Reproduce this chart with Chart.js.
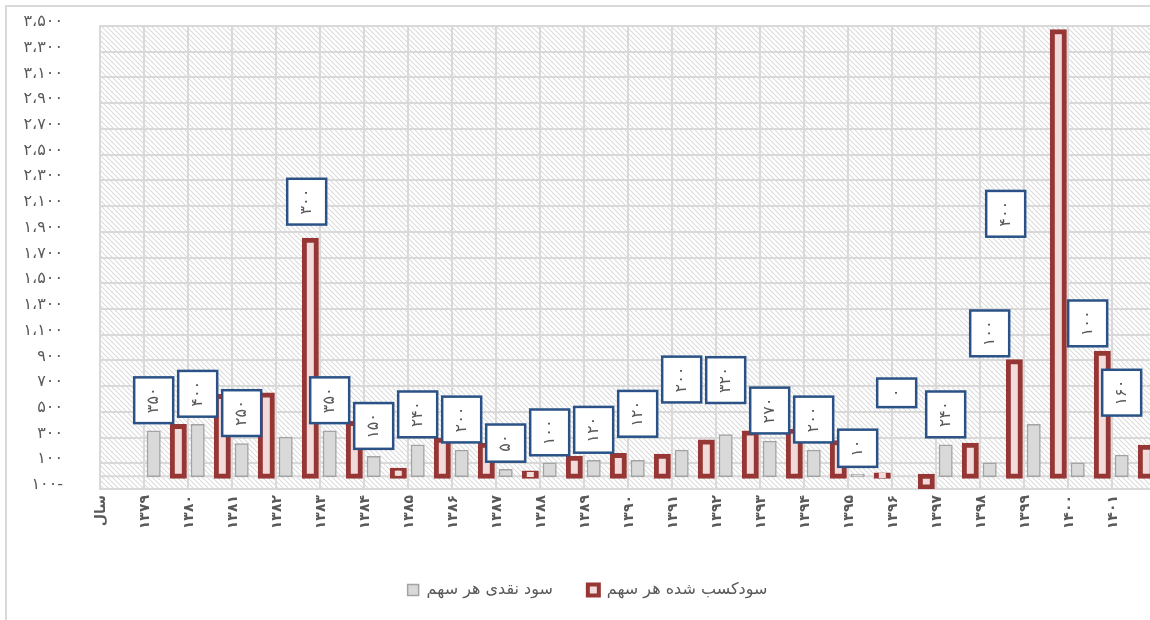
<!DOCTYPE html>
<html lang="fa">
<head>
<meta charset="utf-8">
<title>سود هر سهم</title>
<script src="https://cdn.jsdelivr.net/npm/chart.js@4.4.1/dist/chart.umd.min.js"></script>
<style>
  html, body { margin: 0; padding: 0; background: #fff; overflow: hidden; }
  #wrap { position: relative; width: 1160px; height: 620px; }
</style>
</head>
<body>
<div id="wrap"><canvas id="epsChart"></canvas></div>
<script>
// --- data ---
const categories = ['سال', '۱۳۷۹', '۱۳۸۰', '۱۳۸۱', '۱۳۸۲', '۱۳۸۳', '۱۳۸۴', '۱۳۸۵', '۱۳۸۶', '۱۳۸۷', '۱۳۸۸', '۱۳۸۹',
  '۱۳۹۰', '۱۳۹۱', '۱۳۹۲', '۱۳۹۳', '۱۳۹۴', '۱۳۹۵', '۱۳۹۶', '۱۳۹۷', '۱۳۹۸', '۱۳۹۹', '۱۴۰۰', '۱۴۰۱'];
const cashDividend = [null, 350, 400, 250, 300, 350, 150, 240, 200, 50, 100, 120,
  120, 200, 320, 270, 200, 10, 0, 240, 100, 400, 100, 160];
const earnedProfit = [null, 385, 620, 630, 1835, 410, 45, 280, 240, 25, 140, 160,
  155, 265, 335, 350, 260, 8, -85, 240, 890, 3455, 955, 225];
const seriesNames = ['سود نقدی هر سهم', 'سودکسب شده هر سهم'];
const yMin = -100, yMax = 3500, yStep = 200;

// callouts that were dragged away from their bar (px: dx, dy)
const calloutShift = {
  '۱۳۸۲': [21, -205], '۱۳۹۰': [0, -16], '۱۳۹۱': [0, -40], '۱۳۹۲': [0, -24], '۱۳۹۶': [-5, -61],
  '۱۳۹۸': [0, -99], '۱۳۹۹': [-28, -180], '۱۴۰۰': [10, -109], '۱۴۰۱': [0, -32]
};

const FONT = '"DejaVu Sans", sans-serif';
const TEXT = '#595959';
const GRID = '#d9d9d9';

const toFa = s => String(s).replace(/\d/g, d => '۰۱۲۳۴۵۶۷۸۹'[d]);
const fmtTick = v => {
  const s = toFa(Math.abs(v).toLocaleString('en-US')).replace(/,/g, '،');
  return v < 0 ? s + '-' : s;
};

// hatched plot area + outer frame
const plotBackground = {
  id: 'plotBackground',
  beforeDraw(chart) {
    const { ctx, chartArea: a } = chart;
    const tile = document.createElement('canvas');
    tile.width = tile.height = 5;
    const t = tile.getContext('2d');
    t.fillStyle = '#fff';
    t.fillRect(0, 0, 5, 5);
    t.strokeStyle = '#dadada';
    t.lineWidth = 1.1;
    [-5, 0, 5].forEach(k => { t.beginPath(); t.moveTo(k, 0); t.lineTo(k + 5, 5); t.stroke(); });
    ctx.save();
    ctx.fillStyle = ctx.createPattern(tile, 'repeat');
    ctx.fillRect(a.left, a.top, a.right - a.left, a.bottom - a.top);
    ctx.strokeStyle = GRID;
    ctx.lineWidth = 2;
    ctx.beginPath();
    ctx.moveTo(6, chart.height);
    ctx.lineTo(6, 6);
    ctx.lineTo(chart.width, 6);
    ctx.stroke();
    ctx.restore();
  }
};

// horizontal axis line at zero
const zeroLine = {
  id: 'zeroLine',
  beforeDatasetsDraw(chart) {
    const { ctx, chartArea: a, scales } = chart;
    const y = scales.y.getPixelForValue(0);
    ctx.save();
    ctx.strokeStyle = GRID;
    ctx.lineWidth = 2;
    ctx.beginPath();
    ctx.moveTo(a.left, y);
    ctx.lineTo(a.right, y);
    ctx.stroke();
    ctx.restore();
  }
};

// boxed, rotated data labels of the dividend series
const callouts = {
  id: 'callouts',
  afterDatasetsDraw(chart) {
    const { ctx } = chart;
    const meta = chart.getDatasetMeta(0);
    ctx.save();
    ctx.font = '16px ' + FONT;
    meta.data.forEach((bar, i) => {
      const v = cashDividend[i];
      if (v === null) return;
      const text = toFa(v);
      const w = 39, h = ctx.measureText(text).width + 20;
      const [dx, dy] = calloutShift[categories[i]] || [0, 0];
      const cx = bar.x + dx, bottom = bar.y - 8 + dy;
      ctx.fillStyle = '#fff';
      ctx.fillRect(cx - w / 2, bottom - h, w, h);
      ctx.strokeStyle = '#2b5287';
      ctx.lineWidth = 2.5;
      ctx.strokeRect(cx - w / 2, bottom - h, w, h);
      ctx.save();
      ctx.translate(cx, bottom - h / 2);
      ctx.rotate(-Math.PI / 2);
      ctx.textAlign = 'center';
      ctx.textBaseline = 'middle';
      ctx.fillStyle = TEXT;
      ctx.fillText(text, 0, 0);
      ctx.restore();
    });
    ctx.restore();
  }
};

Chart.defaults.font.family = FONT;
Chart.defaults.color = TEXT;

new Chart(document.getElementById('epsChart'), {
  type: 'bar',
  data: {
    labels: categories,
    datasets: [{
      label: seriesNames[0],
      data: cashDividend,
      backgroundColor: '#d9d9d9',
      borderColor: '#a3a3a3',
      borderWidth: 1.5,
      borderSkipped: false,
      inflateAmount: 0.75,
      barPercentage: 0.51,
      categoryPercentage: 1.12
    }, {
      label: seriesNames[1],
      data: earnedProfit,
      backgroundColor: '#f2dcdb',
      borderColor: '#973735',
      borderWidth: 5,
      borderSkipped: false,
      inflateAmount: 2.5,
      barPercentage: 0.487,
      categoryPercentage: 1.12
    }]
  },
  options: {
    responsive: true,
    maintainAspectRatio: false,
    animation: false,
    events: [],
    layout: { padding: { left: 19, right: 4, top: 26, bottom: 12 } },
    scales: {
      x: {
        grid: { color: GRID, lineWidth: 2, drawTicks: false },
        border: { color: GRID, width: 2 },
        ticks: {
          autoSkip: false, maxRotation: 90, minRotation: 90, padding: 6, labelOffset: -21,
          font: { size: 14, weight: 'bold' }, color: TEXT
        },
        afterFit: s => { s.height = 58; }
      },
      y: {
        min: yMin, max: yMax,
        grid: { color: GRID, lineWidth: 2, drawTicks: false },
        border: { color: GRID, width: 2 },
        ticks: { stepSize: yStep, padding: 37, labelOffset: -4, font: { size: 16 }, color: TEXT, callback: v => fmtTick(v) },
        afterFit: s => { s.width = 81; s.paddingTop = 0; s.paddingBottom = 0; }
      }
    },
    plugins: {
      legend: {
        position: 'bottom',
        labels: {
          boxWidth: 11, boxHeight: 11, padding: 35, color: TEXT, font: { size: 16 },
          generateLabels(chart) {
            const items = Chart.defaults.plugins.legend.labels.generateLabels(chart);
            items[1].lineWidth = 4;
            return items;
          }
        }
      },
      tooltip: { enabled: false }
    }
  },
  plugins: [plotBackground, zeroLine, callouts]
});
</script>
</body>
</html>
